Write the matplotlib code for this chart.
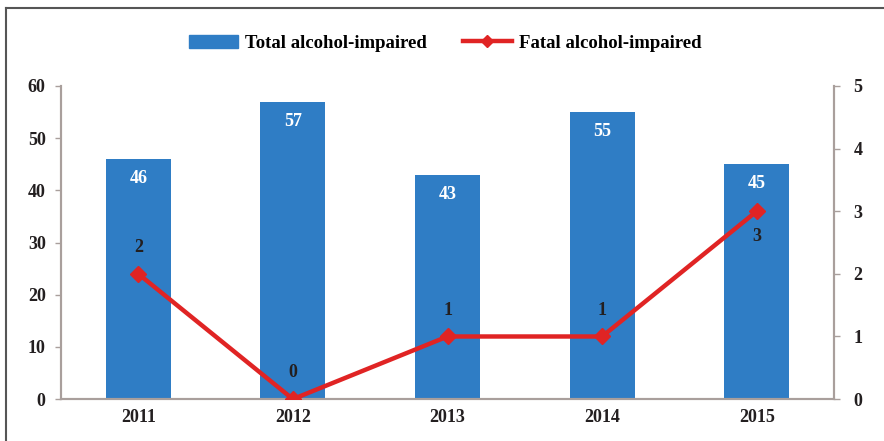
import matplotlib.pyplot as plt
import matplotlib.lines as mlines
import matplotlib.patches as mpatches
import numpy as np

YEARS = ['2011', '2012', '2013', '2014', '2015']
TOTAL = [46, 57, 43, 55, 45]
FATAL = [2, 0, 1, 1, 3]
# label offset direction for fatal labels (points)
FATAL_OFFSETS = [19, 19, 19, 19, -18]

BAR_COLOR = '#2F7DC5'
LINE_COLOR = '#E02424'
AXIS_COLOR = '#A99F9C'
TEXT_COLOR = '#231F20'

plt.rcParams['font.family'] = ['Liberation Serif', 'DejaVu Serif']
plt.rcParams['font.weight'] = 'bold'

fig = plt.figure(figsize=(8.84, 4.41), dpi=100)
ax = fig.add_axes([0.069, 0.095, 0.8745, 0.71])
ax2 = ax.twinx()

x = np.arange(len(YEARS))
ax.bar(x, TOTAL, width=0.42, color=BAR_COLOR, zorder=2)
for xi, v in zip(x, TOTAL):
    ax.annotate(str(v), (xi, v), xytext=(0, -14), textcoords='offset points',
                ha='center', va='center', color='white', fontsize=13,
                fontweight='bold')

ax2.plot(x, FATAL, color=LINE_COLOR, linewidth=3.2, marker='D',
         markersize=8, zorder=3)
for xi, v, off in zip(x, FATAL, FATAL_OFFSETS):
    ax2.annotate(str(v), (xi, v), xytext=(0, off), textcoords='offset points',
                 ha='center', va='center', color=TEXT_COLOR, fontsize=13,
                 fontweight='bold')

ax.set_xlim(-0.5, 4.5)
ax.set_ylim(0, 60)
ax2.set_ylim(0, 5)
ax.set_yticks(range(0, 61, 10))
ax2.set_yticks(range(0, 6))
ax.set_xticks(x)
ax.set_xticklabels(YEARS)

for a in (ax, ax2):
    a.spines['top'].set_visible(False)
    for s in a.spines.values():
        s.set_color(AXIS_COLOR)
        s.set_linewidth(1.5)
    a.tick_params(colors=TEXT_COLOR, labelsize=13, length=4, width=1,
                  color=AXIS_COLOR)
ax.tick_params(axis='y', pad=7)
ax2.tick_params(axis='y', pad=10)
ax.tick_params(axis='x', length=0, pad=7)
for lab in ax.get_xticklabels() + ax.get_yticklabels() + ax2.get_yticklabels():
    lab.set_fontweight('bold')

handles = [
    mpatches.Patch(color=BAR_COLOR, label='Total alcohol-impaired'),
    mlines.Line2D([], [], color=LINE_COLOR, linewidth=3.2, marker='D',
                  markersize=6, label='Fatal alcohol-impaired'),
]
fig.legend(handles=handles, loc='center', bbox_to_anchor=(0.504, 0.902),
           ncol=2, frameon=False, handlelength=2.6,
           columnspacing=1.9, handletextpad=0.4,
           prop={'weight': 'bold', 'size': 13.5})

# outer frame (top and left edges)
fig.add_artist(mlines.Line2D([0.007, 1.0], [0.981, 0.981], color='#555555',
                             linewidth=1.5, transform=fig.transFigure))
fig.add_artist(mlines.Line2D([0.007, 0.007], [0.0, 0.981], color='#555555',
                             linewidth=1.5, transform=fig.transFigure))

fig.savefig('out.png', dpi=100)
